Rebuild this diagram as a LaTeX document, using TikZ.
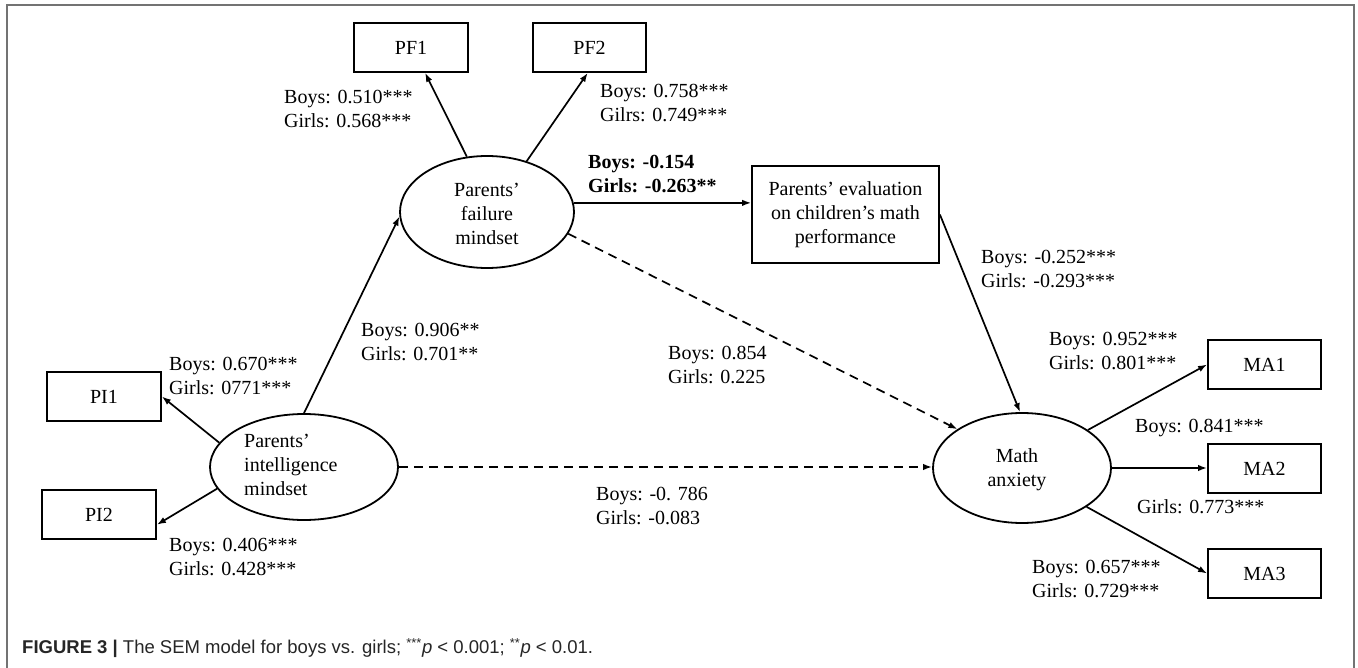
\documentclass[tikz,border=0pt]{standalone}
\usepackage{fontspec}
\setmainfont{Liberation Serif}
\newfontfamily\capfont{Liberation Sans}
\usetikzlibrary{arrows.meta,shapes.geometric}
\tikzset{
  base/.style={font=\fontsize{20}{24}\selectfont, text=black, inner sep=0pt},
  box/.style={base, draw, rectangle, line width=1.8pt, align=center},
  lat/.style={draw, ellipse, line width=1.8pt, inner sep=0pt},
  lab/.style={base, anchor=west, align=left},
  arr/.style={line width=1.7pt, -{Latex[length=9pt,width=6.5pt]}},
  dsh/.style={arr, dash pattern=on 9pt off 6pt},
  frame/.style={draw=black!55, line width=1.5pt}
}
\begin{document}
\begin{tikzpicture}[x=1pt,y=-1pt]
\useasboundingbox (0,0) rectangle (1358,668);
\fill[white] (0,0) rectangle (1358,668);
\draw[frame] (7,668) -- (7,5) -- (1354,5) -- (1354,668);

% observed variables
\node[box, minimum width=114pt, minimum height=49pt] (pf1) at (411,47.5) {PF1};
\node[box, minimum width=113pt, minimum height=49pt] (pf2) at (589.5,47.5) {PF2};
\node[box, minimum width=187pt, minimum height=97pt] (ev) at (845.5,214.5) {Parents’ evaluation\\on children’s math\\performance};
\node[box, minimum width=114pt, minimum height=49pt] (pi1) at (104,396.5) {PI1};
\node[box, minimum width=114pt, minimum height=49pt] (pi2) at (99,514.5) {PI2};
\node[box, minimum width=113pt, minimum height=49pt] (ma1) at (1264.5,364.5) {MA1};
\node[box, minimum width=113pt, minimum height=49pt] (ma2) at (1264.5,468.5) {MA2};
\node[box, minimum width=113pt, minimum height=49pt] (ma3) at (1264.5,573.5) {MA3};

% latent variables
\node[lat, minimum width=174pt, minimum height=112pt] (pf) at (487,212) {};
\node[base, align=center] (pft) at (487,214) {Parents’\\failure\\mindset};
\node[lat, minimum width=188pt, minimum height=106pt] (pi) at (304,467) {};
\node[base, align=left, anchor=west] (pit) at (244,465) {Parents’\\intelligence\\mindset};
\node[lat, minimum width=178pt, minimum height=110pt] (ma) at (1022,468) {};
\node[base, align=center] (mat) at (1017,469.5) {Math\\anxiety};

% connectors
\draw[arr] (pf.110) -- (pf1.-61);
\draw[arr] (pf.52) -- (pf2.-94);
\draw[arr] (pf.6) -- (pf.6 -| ev.west);
\draw[dsh] (pf.-15) -- (ma.149);
\draw[arr] (pi.90) -- (pf.183);
\draw[arr] (pi.164) -- (pi1.east);
\draw[arr] (pi.194) -- (pi2.-10);
\draw[dsh] (pi.east) -- (pi.east -| ma.west);
\draw[arr] (ev.east) -- (ma.92);
\draw[arr] (ma.30) -- (ma1.west);
\draw[arr] (ma.east) -- (ma.east -| ma2.west);
\draw[arr] (ma.-31) -- (ma3.west);

% coefficient labels
\node[lab] (l1) at (284,108.5) {Boys: 0.510***\\Girls: 0.568***};
\node[lab] (l2) at (600,103) {Boys: 0.758***\\Gilrs: 0.749***};
\node[lab, font=\fontsize{20}{24}\selectfont\bfseries] (l3) at (588,174) {Boys: -0.154\\Girls: -0.263**};
\node[lab] (l4) at (981,268.5) {Boys: -0.252***\\Girls: -0.293***};
\node[lab] (l5) at (361,342) {Boys: 0.906**\\Girls: 0.701**};
\node[lab] (l6) at (169,375.5) {Boys: 0.670***\\Girls: 0771***};
\node[lab] (l7) at (169,556.5) {Boys: 0.406***\\Girls: 0.428***};
\node[lab] (l8) at (668,364.5) {Boys: 0.854\\Girls: 0.225};
\node[lab] (l9) at (596,505.5) {Boys: -0. 786\\Girls: -0.083};
\node[lab] (l10) at (1049,350.5) {Boys: 0.952***\\Girls: 0.801***};
\node[lab] (l11) at (1135,428) {Boys: 0.841***};
\node[lab] (l12) at (1137,507) {Girls: 0.773***};
\node[lab] (l13) at (1032,578.5) {Boys: 0.657***\\Girls: 0.729***};

% caption
\node[anchor=west, inner sep=0pt, text=black!85, font=\capfont\fontsize{18.5}{22}\selectfont] (cap) at (22,648)
  {\textbf{FIGURE 3 |} The SEM model for boys vs. girls; \textsuperscript{***}\textit{p} < 0.001; \textsuperscript{**}\textit{p} < 0.01.};
\end{tikzpicture}
\end{document}
